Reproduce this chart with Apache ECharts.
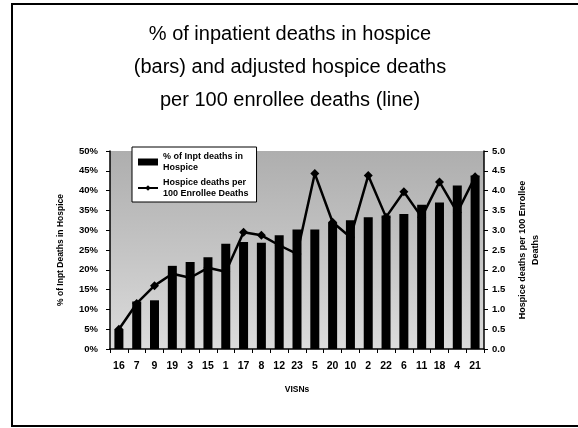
<!DOCTYPE html>
<html>
<head>
<meta charset="utf-8">
<script src="https://cdn.jsdelivr.net/npm/echarts@6/dist/echarts.min.js"></script>
<style>
html,body{margin:0;padding:0;background:#fff;}
#c{width:578px;height:428px;}
</style>
</head>
<body>
<div id="c"></div>
<script>
var categories = ['16','7','9','19','3','15','1','17','8','12','23','5','20','10','2','22','6','11','18','4','21'];
var pctInptHospice = [5, 12, 12.3, 21, 22, 23.2, 26.6, 27, 26.8, 28.7, 30.2, 30.2, 32, 32.5, 33.3, 33.7, 34.1, 36.4, 37, 41.3, 43.8];
var hospicePer100 = [0.5, 1.15, 1.6, 1.9, 1.8, 2.05, 1.95, 2.95, 2.87, 2.62, 2.4, 4.43, 3.2, 2.82, 4.38, 3.33, 3.97, 3.33, 4.22, 3.45, 4.35];
var leftTicks = [0, 5, 10, 15, 20, 25, 30, 35, 40, 45, 50];
var rightTicks = [0, 0.5, 1, 1.5, 2, 2.5, 3, 3.5, 4, 4.5, 5];
var titleText = '% of inpatient deaths in hospice\n(bars) and adjusted hospice deaths\nper 100 enrollee deaths (line)';
var barName = '% of Inpt deaths in\nHospice';
var lineName = 'Hospice deaths per\n100 Enrollee Deaths';

var FONT = 'Liberation Sans, Arial, sans-serif';
var chart = echarts.init(document.getElementById('c'), null, {renderer:'canvas'});
var axisLab = {color:'#000', fontFamily:FONT, fontWeight:'bold', fontSize:9.5};
chart.setOption({
  animation:false,
  backgroundColor:'#fff',
  title:{
    text:titleText, left:285, textAlign:'center', top:13,
    textStyle:{fontFamily:FONT, fontSize:20, fontWeight:'normal', color:'#000', lineHeight:33}
  },
  graphic:[{
    type:'rect', shape:{x:12, y:4, width:580, height:422},
    style:{fill:'none', stroke:'#000', lineWidth:2}, silent:true
  }],
  legend:{
    orient:'vertical', left:132, top:147,
    backgroundColor:'#fff', borderColor:'#000', borderWidth:1,
    padding:[4,8,3,5], itemGap:4, itemWidth:20, itemHeight:7,
    textStyle:{fontFamily:FONT, fontSize:9, fontWeight:'bold', color:'#000', lineHeight:11},
    data:[{name:barName, icon:'rect'}, {name:lineName}]
  },
  grid:{left:110, right:94, top:151, bottom:79, show:true, borderWidth:0,
    backgroundColor:{type:'linear', x:0, y:0, x2:0, y2:1,
      colorStops:[{offset:0,color:'#aeaeae'},{offset:0.5,color:'#c4c4c4'},{offset:1,color:'#dcdcdc'}]}},
  xAxis:{
    type:'category', data:categories,
    name:'VISNs', nameLocation:'middle', nameGap:36,
    nameTextStyle:{fontFamily:FONT, fontWeight:'bold', fontSize:8.5, color:'#000'},
    axisLine:{lineStyle:{color:'#000', width:1.5}},
    axisTick:{show:true, length:4, lineStyle:{color:'#000'}},
    axisLabel:Object.assign({margin:12}, axisLab, {fontSize:10.5})
  },
  yAxis:[{
    type:'value', min:0, max:50, interval:5, position:'left',
    name:'% of Inpt Deaths in Hospice', nameLocation:'middle', nameGap:45, nameRotate:90,
    nameTextStyle:{fontFamily:FONT, fontWeight:'bold', fontSize:8.5, color:'#000'},
    axisLine:{show:true, lineStyle:{color:'#000', width:1.5}},
    axisTick:{show:true, length:4, lineStyle:{color:'#000'}},
    splitLine:{show:false},
    axisLabel:Object.assign({margin:12, formatter:function(v){return leftTicks.indexOf(v)>=0 ? v+'%' : '';}}, axisLab)
  },{
    type:'value', min:0, max:5, interval:0.5, position:'right',
    name:'Hospice deaths per 100 Enrollee\nDeaths', nameLocation:'middle', nameGap:26, nameRotate:90,
    nameTextStyle:{fontFamily:FONT, fontWeight:'bold', fontSize:9, color:'#000', lineHeight:13, align:'center'},
    axisLine:{show:true, lineStyle:{color:'#000', width:1.5}},
    axisTick:{show:true, length:4, lineStyle:{color:'#000'}},
    splitLine:{show:false},
    axisLabel:Object.assign({margin:8, formatter:function(v){return rightTicks.indexOf(v)>=0 ? v.toFixed(1) : '';}}, axisLab)
  }],
  series:[{
    name:barName, type:'bar', data:pctInptHospice, yAxisIndex:0,
    barWidth:9, itemStyle:{color:'#000'}
  },{
    name:lineName, type:'line', data:hospicePer100, yAxisIndex:1,
    symbol:'diamond', symbolSize:9, showSymbol:true,
    lineStyle:{color:'#000', width:2.5}, itemStyle:{color:'#000'}
  }]
});
</script>
</body>
</html>
